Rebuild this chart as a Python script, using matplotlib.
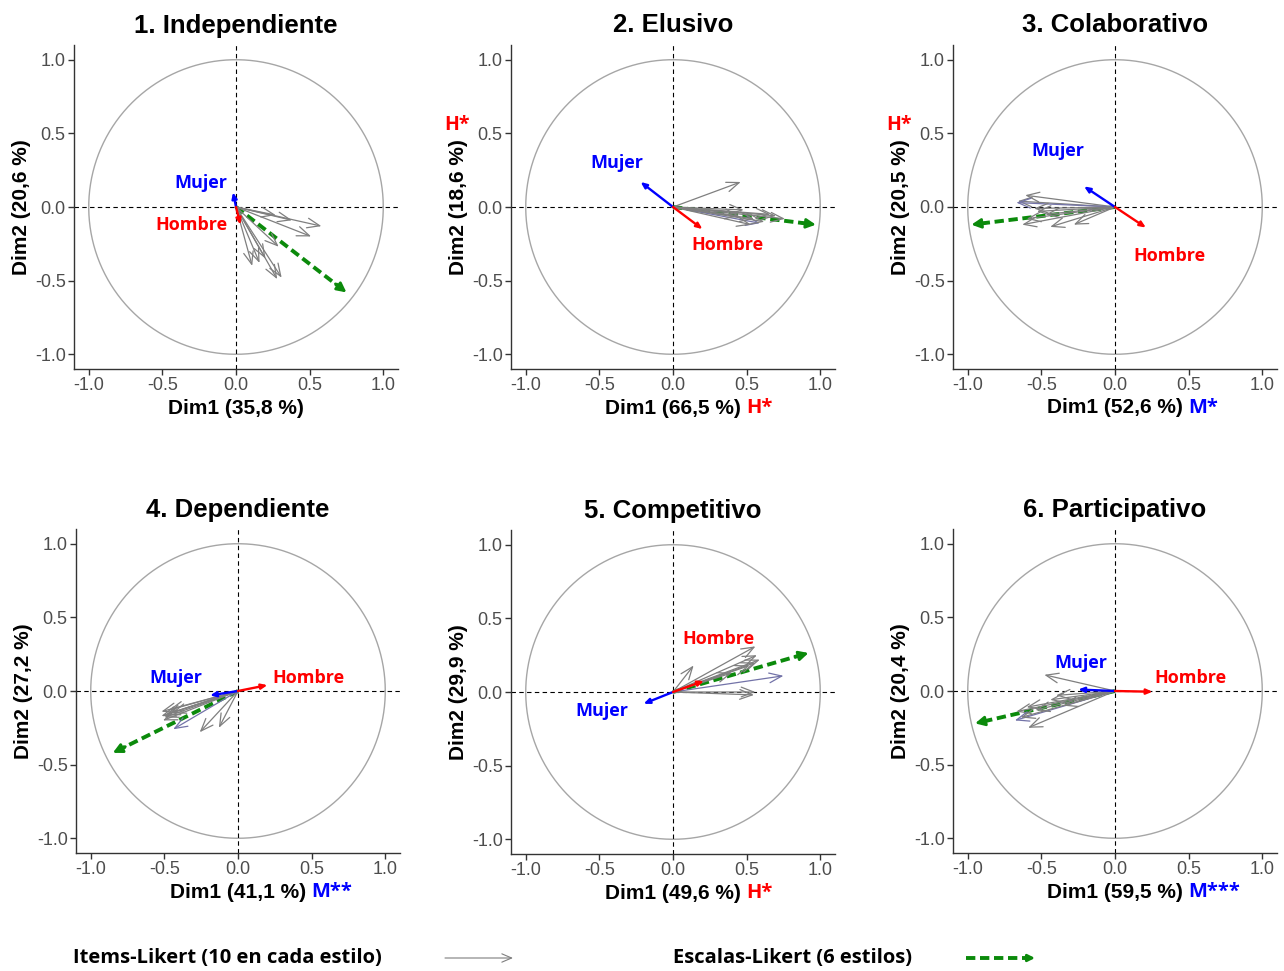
import numpy as np
import matplotlib.pyplot as plt

# --- data ------------------------------------------------------------------
titles = ["1. Independiente", "2. Elusivo", "3. Colaborativo",
          "4. Dependiente", "5. Competitivo", "6. Participativo"]
dim1_pct = ["35,8", "66,5", "52,6", "41,1", "49,6", "59,5"]
dim2_pct = ["20,6", "18,6", "20,5", "27,2", "29,9", "20,4"]
sig_dim1 = ["", "H*", "M*", "M**", "H*", "M***"]
sig_dim2 = ["", "H*", "H*", "", "", ""]

# 10 Likert items per style (coordinates on Dim1 / Dim2)
items1_x = [0.27, 0.38, 0.58, 0.51, 0.29, 0.11, 0.16, 0.28, 0.31, 0.20]
items1_y = [-0.055, -0.09, -0.13, -0.20, -0.27, -0.40, -0.38, -0.49, -0.48, -0.35]
items2_x = [0.46, 0.48, 0.66, 0.76, 0.59, 0.53, 0.70, 0.55, 0.62, 0.45]
items2_y = [0.17, -0.02, -0.05, -0.08, -0.11, -0.12, -0.06, -0.08, -0.10, -0.06]
items3_x = [-0.66, -0.61, -0.67, -0.53, -0.63, -0.44, -0.28, -0.47, -0.60, -0.55]
items3_y = [0.04, 0.08, 0.03, -0.03, -0.12, -0.135, -0.12, -0.05, -0.08, -0.01]
items4_x = [-0.52, -0.52, -0.51, -0.49, -0.47, -0.44, -0.26, -0.13, -0.50, -0.45]
items4_y = [-0.14, -0.17, -0.20, -0.16, -0.13, -0.26, -0.28, -0.25, -0.18, -0.15]
items5_x = [0.14, 0.56, 0.57, 0.59, 0.56, 0.75, 0.56, 0.55, 0.52, 0.40]
items5_y = [0.18, 0.31, 0.25, 0.22, 0.20, 0.11, 0.00, -0.02, 0.18, 0.13]
items6_x = [-0.48, -0.44, -0.40, -0.67, -0.68, -0.59, -0.64, -0.60, -0.54, -0.35]
items6_y = [0.11, -0.06, -0.03, -0.14, -0.20, -0.25, -0.18, -0.11, -0.13, -0.10]
items_x = [items1_x, items2_x, items3_x, items4_x, items5_x, items6_x]
items_y = [items1_y, items2_y, items3_y, items4_y, items5_y, items6_y]
purple_item = [None, 4, 2, 5, 5, 4]   # one item drawn in slate blue

# scale score (6 styles)
scale_x = [0.75, 0.97, -0.975, -0.85, 0.92, -0.95]
scale_y = [-0.58, -0.12, -0.12, -0.42, 0.265, -0.22]

# supplementary variable: sex
mujer_x = [-0.02, -0.22, -0.21, -0.19, -0.20, -0.25]
mujer_y = [0.10, 0.17, 0.14, -0.03, -0.08, 0.01]
hombre_x = [0.03, 0.20, 0.21, 0.20, 0.21, 0.255]
hombre_y = [-0.12, -0.15, -0.14, 0.04, 0.075, -0.005]
mujer_lab = [(-0.24, 0.16), (-0.38, 0.30), (-0.39, 0.38), (-0.42, 0.09), (-0.48, -0.13), (-0.23, 0.19)]
hombre_lab = [(-0.30, -0.12), (0.37, -0.26), (0.37, -0.33), (0.48, 0.09), (0.31, 0.36), (0.51, 0.09)]

# --- figure -----------------------------------------------------------------
W, H = 1284, 971
fig = plt.figure(figsize=(W / 100, H / 100), dpi=100)
LAB = ["Open Sans", "DejaVu Sans"]
AX = ["Liberation Sans", "DejaVu Sans"]
BLUE, RED, GREEN = "#0000ff", "#ff0000", "#0b8a0b"

size = 324
origins = [(236, 207), (673, 207), (1115, 207), (238, 691), (673, 692), (1115, 691)]
sig_col = {"H": RED, "M": BLUE}

for i in range(6):
    ox, oy = origins[i]
    ax = fig.add_axes([(ox - size / 2) / W, (H - oy - size / 2) / H, size / W, size / H])
    ax.set_xlim(-1.1, 1.1)
    ax.set_ylim(-1.1, 1.1)
    ax.set_aspect("equal")
    for s in ["top", "right"]:
        ax.spines[s].set_visible(False)
    for s in ["left", "bottom"]:
        ax.spines[s].set_color("#333333")
        ax.spines[s].set_linewidth(1.0)
    ticks = [-1.0, -0.5, 0.0, 0.5, 1.0]
    ax.set_xticks(ticks)
    ax.set_yticks(ticks)
    ax.set_xticklabels([f"{t:.1f}" for t in ticks])
    ax.set_yticklabels([f"{t:.1f}" for t in ticks])
    ax.tick_params(length=4, width=1, color="#333333", labelcolor="#4d4d4d",
                   labelsize=13, pad=2)
    for lab in ax.get_xticklabels() + ax.get_yticklabels():
        lab.set_family(AX)

    t = np.linspace(0, 2 * np.pi, 300)
    ax.plot(np.cos(t), np.sin(t), color="#a6a6a6", lw=1.0)
    ax.axhline(0, color="black", ls=(0, (4, 3)), lw=0.8)
    ax.axvline(0, color="black", ls=(0, (4, 3)), lw=0.8)

    # items
    for k, (x, y) in enumerate(zip(items_x[i], items_y[i])):
        c = "#7373a8" if k == purple_item[i] else "#7f7f7f"
        ax.annotate("", xy=(x, y), xytext=(0, 0),
                    arrowprops=dict(arrowstyle="->,head_length=0.9,head_width=0.35",
                                    color=c, lw=0.9, shrinkA=0, shrinkB=0))

    # scale (dashed green)
    sx, sy = scale_x[i], scale_y[i]
    ax.plot([0, sx * 0.96], [0, sy * 0.96], color=GREEN, lw=2.8, ls=(0, (2.4, 1.2)),
            solid_capstyle="butt", dash_capstyle="butt")
    ax.annotate("", xy=(sx, sy), xytext=(sx * 0.9, sy * 0.9),
                arrowprops=dict(arrowstyle="-|>,head_length=0.55,head_width=0.28",
                                color=GREEN, lw=2.0, shrinkA=0, shrinkB=0))

    # sex
    for vx, vy, col in [(mujer_x[i], mujer_y[i], BLUE), (hombre_x[i], hombre_y[i], RED)]:
        ax.annotate("", xy=(vx, vy), xytext=(0, 0),
                    arrowprops=dict(arrowstyle="-|>,head_length=0.35,head_width=0.15",
                                    color=col, lw=1.7, shrinkA=0, shrinkB=0))
    ax.text(*mujer_lab[i], "Mujer", color=BLUE, fontsize=13, fontweight="bold",
            family=LAB, ha="center", va="center")
    ax.text(*hombre_lab[i], "Hombre", color=RED, fontsize=13, fontweight="bold",
            family=LAB, ha="center", va="center")

    ax.set_title(titles[i], fontsize=18.5, fontweight="bold", family=AX, pad=9)
    ax.set_xlabel(f"Dim1 ({dim1_pct[i]} %)", fontsize=15, fontweight="bold",
                  family=AX, labelpad=3)
    ax.set_ylabel(f"Dim2 ({dim2_pct[i]} %)", fontsize=15, fontweight="bold",
                  family=AX, labelpad=3)

    if sig_dim1[i]:
        ax.annotate(sig_dim1[i], xy=(1, 0.5), xycoords=ax.xaxis.label,
                    xytext=(4, 0), textcoords="offset points", ha="left", va="center",
                    color=sig_col[sig_dim1[i][0]], fontsize=14.5, fontweight="bold", family=LAB)
    if sig_dim2[i]:
        ax.text(-0.166, 0.752, sig_dim2[i], transform=ax.transAxes, ha="center",
                va="center", color=sig_col[sig_dim2[i][0]], fontsize=14,
                fontweight="bold", family=LAB)

# --- legend at the bottom ---------------------------------------------------
fig.text(73 / W, 1 - 958 / H, "Items-Likert (10 en cada estilo)", fontsize=14.5,
         fontweight="bold", family=LAB, ha="left", va="center")
fig.text(673 / W, 1 - 958 / H, "Escalas-Likert (6 estilos)", fontsize=14.5,
         fontweight="bold", family=LAB, ha="left", va="center")
leg = fig.add_axes([0, 0, 1, 1], facecolor="none")
leg.set_axis_off()
leg.set_xlim(0, W)
leg.set_ylim(H, 0)
leg.annotate("", xy=(513, 958), xytext=(445, 958),
             arrowprops=dict(arrowstyle="->,head_length=0.7,head_width=0.3",
                             color="#7f7f7f", lw=0.8, shrinkA=0, shrinkB=0))
leg.plot([966, 1026], [958, 958], color=GREEN, lw=2.8, ls=(0, (2.4, 1.2)))
leg.annotate("", xy=(1035, 958), xytext=(1025, 958),
             arrowprops=dict(arrowstyle="-|>,head_length=0.4,head_width=0.2",
                             color=GREEN, lw=2.0, shrinkA=0, shrinkB=0))

fig.savefig("out.png", dpi=100)
